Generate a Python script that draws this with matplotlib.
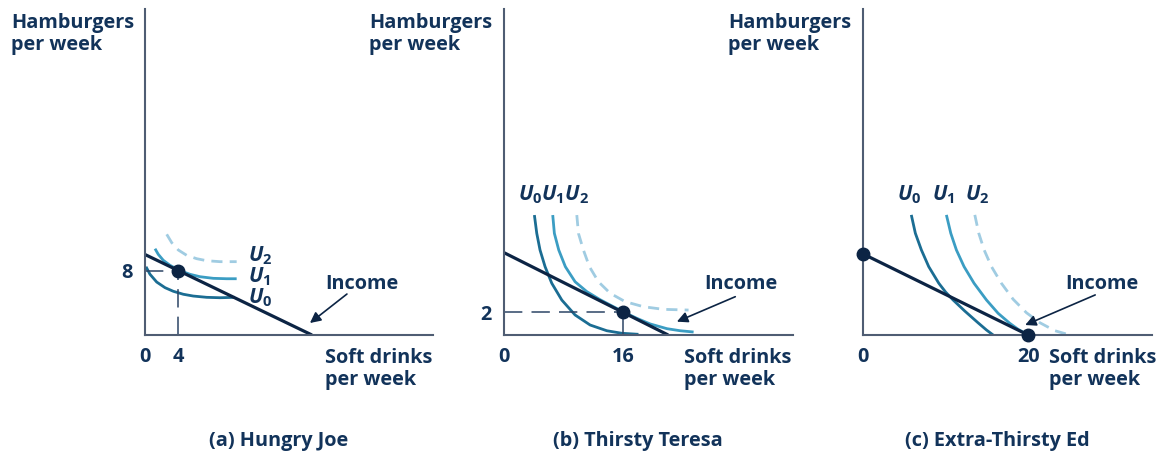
import matplotlib
matplotlib.use("Agg")
import matplotlib.pyplot as plt

plt.rcParams['font.family'] = ['Open Sans', 'DejaVu Sans']
plt.rcParams['font.weight'] = 'bold'
plt.rcParams['mathtext.fontset'] = 'custom'
plt.rcParams['mathtext.it'] = 'Open Sans:italic:bold'
plt.rcParams['mathtext.rm'] = 'Open Sans:bold'

W, H = 1167, 454

NAVY = '#12335a'
AXIS = '#4f5d73'
LINE = '#0c2444'
GUIDE = '#2c4566'
C_U0 = '#1b6d93'
C_U1 = '#3b9dc3'
C_U2 = '#a0cce2'

# ---- panel (a) Hungry Joe ----
a_budget_x = [0, 20]
a_budget_y = [10, 0]
a_u0_x = [0.12, 0.6, 1.4, 2.4, 3.39, 4.59, 5.78, 7.39, 8.98, 10.78]
a_u0_y = [8.48, 7.54, 6.58, 5.88, 5.43, 5.06, 4.84, 4.68, 4.63, 4.68]
a_u1_x = [1.2, 1.59, 2.19, 2.99, 4.1, 5.39, 6.59, 8.18, 9.78, 10.98]
a_u1_y = [10.72, 10.02, 9.28, 8.66, 8.04, 7.54, 7.24, 7.04, 6.99, 6.99]
a_u2_x = [2.6, 3.2, 3.99, 4.99, 6.19, 7.39, 8.98, 10.98]
a_u2_y = [12.51, 11.47, 10.56, 9.9, 9.48, 9.23, 9.11, 9.11]
a_choice = (4, 8)

# ---- panel (b) Thirsty Teresa ----
b_budget_x = [0, 22.1]
b_budget_y = [7.16, 0]
b_u0_x = [4.09, 4.41, 4.85, 5.53, 6.43, 7.78, 9.57, 11.59, 13.84, 15.86, 18.1]
b_u0_y = [10.43, 8.84, 7.39, 5.94, 4.5, 3.04, 1.74, 0.87, 0.37, 0.15, 0.06]
b_u1_x = [6.56, 6.78, 7.37, 8.26, 9.57, 11.15, 12.94, 14.73, 16.0, 17.88, 19.68, 21.93, 23.72, 25.52]
b_u1_y = [10.43, 8.84, 7.39, 5.94, 4.63, 3.77, 3.07, 2.46, 2.03, 1.45, 0.96, 0.55, 0.37, 0.26]
b_u2_x = [9.8, 10.02, 10.69, 11.5, 12.71, 14.29, 16.31, 18.77, 21.47, 24.84]
b_u2_y = [10.43, 8.84, 7.39, 5.94, 4.63, 3.63, 2.9, 2.46, 2.23, 2.17]
b_choice = (16, 2)

# ---- panel (c) Extra-Thirsty Ed ----
c_budget_x = [0, 20]
c_budget_y = [10, 0]
c_u0_x = [5.85, 6.34, 7.07, 7.96, 9.18, 10.0, 10.91, 12.33, 13.94, 14.95, 15.76]
c_u0_y = [14.81, 12.55, 10.49, 8.43, 6.38, 5.3, 4.32, 2.95, 1.5, 0.62, 0.0]
c_u1_x = [10.1, 10.63, 11.31, 12.24, 13.45, 14.95, 16.36, 17.78, 18.79, 19.8]
c_u1_y = [14.81, 12.55, 10.49, 8.43, 6.38, 4.32, 2.68, 1.44, 0.7, 0.12]
c_u2_x = [13.54, 14.02, 14.67, 15.56, 16.76, 18.18, 19.79, 21.41, 23.23, 25.05]
c_u2_y = [14.81, 12.55, 10.49, 8.43, 6.38, 4.41, 2.75, 1.52, 0.53, 0.0]
c_ends = ([0, 20], [10, 0])

titles = ['(a) Hungry Joe', '(b) Thirsty Teresa', '(c) Extra-Thirsty Ed']

FS = 14.3

fig = plt.figure(figsize=(W / 100, H / 100), dpi=100)


def ftext(x, y, s, **kw):
    # place text using pixel coordinates of the reference picture
    kw.setdefault('color', NAVY)
    kw.setdefault('fontsize', FS)
    kw.setdefault('fontweight', 'bold')
    fig.text(x / W, 1 - y / H, s, **kw)


def make_axes(left, right, xmax, ymax):
    ax = fig.add_axes([left / W, (H - 335) / H, (right - left) / W, 326 / H])
    ax.set_xlim(0, xmax)
    ax.set_ylim(0, ymax)
    for s in ['top', 'right']:
        ax.spines[s].set_visible(False)
    for s in ['left', 'bottom']:
        ax.spines[s].set_color(AXIS)
        ax.spines[s].set_linewidth(1.5)
    ax.tick_params(length=0, labelsize=FS, labelcolor=NAVY, pad=9)
    ax.patch.set_alpha(0)
    return ax


def curves(ax, u0, u1, u2, budget):
    ax.plot(u0[0], u0[1], color=C_U0, lw=2.0, solid_capstyle='butt')
    ax.plot(u1[0], u1[1], color=C_U1, lw=2.0, solid_capstyle='butt')
    ax.plot(u2[0], u2[1], color=C_U2, lw=2.0, dashes=(4, 2.6))
    ax.plot(budget[0], budget[1], color=LINE, lw=2.3, solid_capstyle='butt')


def arrow(ax, head, tail):
    ax.annotate('', xy=head, xytext=tail,
                arrowprops=dict(arrowstyle='-|>', color=LINE, lw=1.2,
                                mutation_scale=16, shrinkA=0, shrinkB=0))


# panel a
ax1 = make_axes(145, 433, 34.5, 40.5)
curves(ax1, (a_u0_x, a_u0_y), (a_u1_x, a_u1_y), (a_u2_x, a_u2_y), (a_budget_x, a_budget_y))
ax1.plot([0, a_choice[0]], [a_choice[1], a_choice[1]], color=GUIDE, lw=1.1, dashes=(12, 6))
ax1.plot([a_choice[0], a_choice[0]], [0, a_choice[1]], color=GUIDE, lw=1.1, dashes=(12, 6))
ax1.plot(*a_choice, 'o', color=LINE, ms=9, zorder=5)
ax1.set_xticks([0, 4])
ax1.set_yticks([8])
arrow(ax1, (19.76, 1.49), (24.19, 5.09))

# panel b
ax2 = make_axes(504, 793, 38.9, 28.35)
curves(ax2, (b_u0_x, b_u0_y), (b_u1_x, b_u1_y), (b_u2_x, b_u2_y), (b_budget_x, b_budget_y))
ax2.plot([0, b_choice[0]], [b_choice[1], b_choice[1]], color=GUIDE, lw=1.1, dashes=(12, 6))
ax2.plot([b_choice[0], b_choice[0]], [0, b_choice[1]], color=GUIDE, lw=1.1, dashes=(12, 6))
ax2.plot(*b_choice, 'o', color=LINE, ms=9, zorder=5)
ax2.set_xticks([0, 16])
ax2.set_yticks([2])
arrow(ax2, (23.27, 1.16), (31.13, 3.33))

# panel c
ax3 = make_axes(863, 1152, 35.0, 40.2)
curves(ax3, (c_u0_x, c_u0_y), (c_u1_x, c_u1_y), (c_u2_x, c_u2_y), (c_budget_x, c_budget_y))
ax3.plot(c_ends[0], c_ends[1], 'o', color=LINE, ms=9, zorder=5, clip_on=False)
ax3.set_xticks([0, 20])
ax3.set_yticks([])
arrow(ax3, (19.64, 1.23), (28.12, 4.94))

# axis titles
for x in [11, 369, 728]:
    ftext(x, 34, 'Hamburgers\nper week', va='center', ha='left', linespacing=1.1)
for x in [325, 684, 1049]:
    ftext(x, 369, 'Soft drinks\nper week', va='center', ha='left', linespacing=1.1)
for x in [325, 704, 1065]:
    ftext(x, 284, 'Income', va='center', ha='left')

# indifference curve labels
ulab = dict(fontsize=15, va='center', ha='left')
ftext(248, 256, '$U_2$', **ulab)
ftext(248, 277, '$U_1$', **ulab)
ftext(248, 298, '$U_0$', **ulab)
ftext(518, 195, '$U_0U_1U_2$', **ulab)
ftext(897, 195, '$U_0$', **ulab)
ftext(932, 195, '$U_1$', **ulab)
ftext(965, 195, '$U_2$', **ulab)

for x, t in zip([279, 638, 997], titles):
    ftext(x, 441, t, va='center', ha='center')

fig.savefig('out.png', dpi=100)
